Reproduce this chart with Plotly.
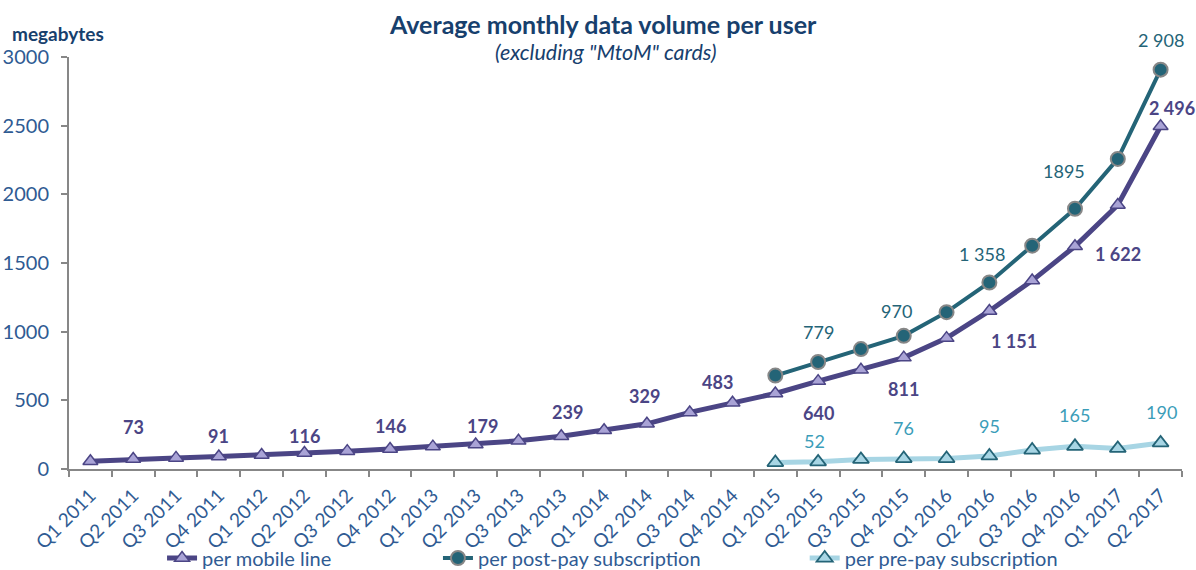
import plotly.graph_objects as go

quarters = [
    "Q1 2011", "Q2 2011", "Q3 2011", "Q4 2011",
    "Q1 2012", "Q2 2012", "Q3 2012", "Q4 2012",
    "Q1 2013", "Q2 2013", "Q3 2013", "Q4 2013",
    "Q1 2014", "Q2 2014", "Q3 2014", "Q4 2014",
    "Q1 2015", "Q2 2015", "Q3 2015", "Q4 2015",
    "Q1 2016", "Q2 2016", "Q3 2016", "Q4 2016",
    "Q1 2017", "Q2 2017",
]

per_mobile_line = [57, 73, 81, 91, 102, 116, 130, 146, 163, 179, 205, 239, 282,
                   329, 412, 483, 550, 640, 722, 811, 953, 1151, 1372, 1622, 1922, 2496]
per_postpay = [None] * 16 + [680, 779, 873, 970, 1142, 1358, 1626, 1895, 2258, 2908]
per_prepay = [None] * 16 + [47, 52, 70, 76, 76, 95, 138, 165, 150, 190]

# labelled points: (quarter index, x shift px, y shift px)
mobile_labels = [(1, 0, 32), (3, 0, 21), (5, 0, 17), (7, 0, 23), (9, 7, 18),
                 (11, 6, 24), (13, -2, 28), (15, -15, 21), (17, 0, -32),
                 (19, 0, -31), (21, 25, -30), (23, 43, -8), (25, 11, 18)]
postpay_labels = [(17, 0, 30), (19, -7, 25), (21, -7, 29), (23, -11, 38), (25, 0, 30)]
prepay_labels = [(17, -4, 21), (19, 0, 31), (21, 0, 30), (23, 0, 31), (25, 1, 31)]

PURPLE = "#4B4585"
LAVENDER = "#A9A3D6"
TEAL = "#246477"
LIGHTBLUE = "#A7D5E4"
LABELBLUE = "#3B9DB9"
NAVY = "#17406D"
AXISBLUE = "#2F5B93"
GRAY = "#878787"
FONT = "Lato"


def fmt(v):
    return f"{v:,}".replace(",", " ")


fig = go.Figure()

fig.add_trace(go.Scatter(
    x=quarters, y=per_mobile_line, name="per mobile line", mode="lines+markers",
    line=dict(color=PURPLE, width=5),
    marker=dict(symbol="triangle-up", size=13, color=LAVENDER,
                line=dict(color=PURPLE, width=1.5)),
    legend="legend",
))
fig.add_trace(go.Scatter(
    x=quarters, y=per_postpay, name="per post-pay subscription", mode="lines+markers",
    line=dict(color=TEAL, width=4),
    marker=dict(symbol="circle", size=14, color=TEAL,
                line=dict(color=GRAY, width=2)),
    legend="legend2",
))
fig.add_trace(go.Scatter(
    x=quarters, y=per_prepay, name="per pre-pay subscription", mode="lines+markers",
    line=dict(color=LIGHTBLUE, width=5),
    marker=dict(symbol="triangle-up", size=14, color=LIGHTBLUE,
                line=dict(color=TEAL, width=1.8)),
    legend="legend3",
))

annotations = []
for i, dx, dy in mobile_labels:
    annotations.append(dict(x=quarters[i], y=per_mobile_line[i], text=f"<b>{fmt(per_mobile_line[i])}</b>",
                            xshift=dx, yshift=dy, showarrow=False,
                            font=dict(family=FONT, size=18, color=PURPLE)))
for i, dx, dy in postpay_labels:
    annotations.append(dict(x=quarters[i], y=per_postpay[i],
                            text="1895" if per_postpay[i] == 1895 else fmt(per_postpay[i]),
                            xshift=dx, yshift=dy, showarrow=False,
                            font=dict(family=FONT, size=18, color=TEAL)))
for i, dx, dy in prepay_labels:
    annotations.append(dict(x=quarters[i], y=per_prepay[i], text=fmt(per_prepay[i]),
                            xshift=dx, yshift=dy, showarrow=False,
                            font=dict(family=FONT, size=18, color=LABELBLUE)))

annotations += [
    dict(xref="paper", yref="paper", x=0.480, y=1.080, xanchor="center", yanchor="middle",
         text="<b>Average monthly data volume per user</b>", showarrow=False,
         font=dict(family=FONT, size=25, color=NAVY)),
    dict(xref="paper", yref="paper", x=0.4825, y=1.012, xanchor="center", yanchor="middle",
         text="<i>(excluding \"MtoM\" cards)</i>", showarrow=False,
         font=dict(family=FONT, size=21.5, color=NAVY)),
    dict(xref="paper", yref="paper", x=-0.053, y=1.058, xanchor="left", yanchor="middle",
         text="<b>megabytes</b>", showarrow=False,
         font=dict(family=FONT, size=19, color=NAVY)),
]

legend_common = dict(orientation="h", yref="container", yanchor="middle", y=0.021,
                     xanchor="left", bgcolor="rgba(0,0,0,0)",
                     font=dict(family=FONT, size=20, color=AXISBLUE))

fig.update_layout(
    width=1196, height=570,
    margin=dict(l=69, r=14, t=57, b=101, autoexpand=False),
    paper_bgcolor="white", plot_bgcolor="white",
    font=dict(family=FONT),
    showlegend=True,
    legend=dict(legend_common, x=0.0836),
    legend2=dict(legend_common, x=0.3315),
    legend3=dict(legend_common, x=0.661),
    annotations=annotations,
    xaxis=dict(
        type="category", range=[-0.5, len(quarters) - 0.5], automargin=False,
        showline=True, linecolor=GRAY, linewidth=2,
        ticks="outside", tickson="boundaries", ticklen=6, tickcolor=GRAY, tickwidth=2,
        ticklabelstandoff=6,
        tickangle=-45, showgrid=False, zeroline=False,
        tickfont=dict(family=FONT, size=19, color=AXISBLUE),
    ),
    yaxis=dict(
        range=[0, 3000], tickvals=[0, 500, 1000, 1500, 2000, 2500, 3000], automargin=False,
        showline=True, linecolor=GRAY, linewidth=2,
        ticks="outside", ticklen=6, tickcolor=GRAY, tickwidth=2, ticklabelstandoff=8,
        showgrid=False, zeroline=False,
        tickfont=dict(family=FONT, size=20, color=AXISBLUE),
    ),
)

fig.write_html("out.html")
